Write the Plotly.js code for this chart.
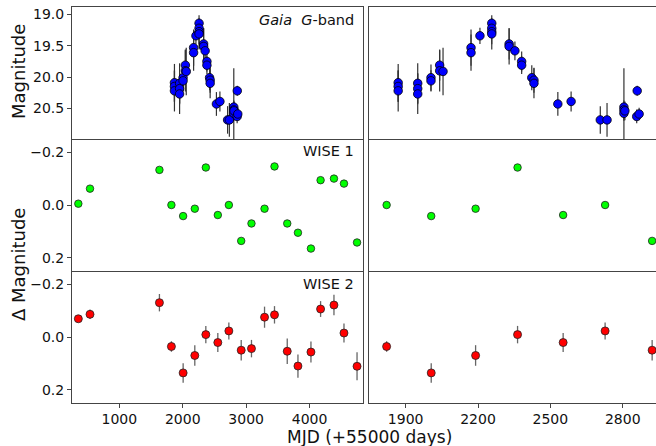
<!DOCTYPE html>
<html>
<head>
<meta charset="utf-8">
<script src="https://cdn.plot.ly/plotly-3.0.1.min.js"></script>
<style>
  html, body { margin: 0; padding: 0; background: #fff; }
  #chart { width: 656px; height: 446px; }
</style>
</head>
<body>
<div id="chart"></div>
<script>
// Gaia G-band light curve (MJD - 55000, magnitude, 1-sigma error)
const gaiaMJD = [1869, 1869, 1869, 1950, 1950, 1950, 2005, 2005, 2041, 2041, 2055,
                 2171, 2171, 2208, 2257, 2257, 2257, 2257, 2329, 2329, 2353, 2381, 2381,
                 2423, 2432, 2432, 2531, 2586, 2707, 2735, 2805, 2805, 2805, 2809,
                 2860, 2858, 2868];
const gaiaMag = [20.09, 20.15, 20.22, 20.10, 20.185, 20.27, 20.01, 20.06, 19.81, 19.90, 19.91,
                 19.53, 19.61, 19.34, 19.14, 19.22, 19.275, 19.31, 19.47, 19.51, 19.58, 19.75, 19.81,
                 20.01, 20.05, 20.10, 20.43, 20.39, 20.685, 20.685, 20.48, 20.525, 20.58, 20.54,
                 20.22, 20.63, 20.59];
const gaiaErr = [0.30, 0.25, 0.33, 0.32, 0.25, 0.32, 0.21, 0.17, 0.25, 0.33, 0.38,
                 0.29, 0.29, 0.13, 0.13, 0.15, 0.20, 0.25, 0.25, 0.29, 0.15, 0.16, 0.14,
                 0.20, 0.20, 0.24, 0.19, 0.16, 0.22, 0.27, 0.62, 0.15, 0.12, 0.15,
                 0.08, 0.11, 0.10];

// WISE epochs and differential photometry
const wiseMJD = [353, 537, 1632, 1821, 2006, 2190, 2364, 2553, 2727, 2922,
                 3084, 3290, 3447, 3648, 3817, 4022, 4174, 4385, 4543, 4749];
const wise1 = [-0.005, -0.062, -0.133, 0.0, 0.042, 0.014, -0.142, 0.038, 0.0, 0.136,
               0.070, 0.014, -0.146, 0.070, 0.105, 0.165, -0.094, -0.100, -0.081, 0.142];
const wise2 = [-0.069, -0.086, -0.130, 0.036, 0.136, 0.070, -0.009, 0.021, -0.023, 0.050,
               0.044, -0.075, -0.084, 0.054, 0.110, 0.057, -0.106, -0.121, -0.015, 0.111];
const wise2Err = [0.012, 0.018, 0.033, 0.020, 0.037, 0.039, 0.033, 0.036, 0.032, 0.039,
                  0.033, 0.040, 0.033, 0.048, 0.044, 0.040, 0.030, 0.039, 0.036, 0.053];

// Tick labels
const fullTicks = [1000, 2000, 3000, 4000];
const zoomTicks = [1900, 2200, 2500, 2800];
const magTicks = [19.0, 19.5, 20.0, 20.5];
const magTickText = ['19.0', '19.5', '20.0', '20.5'];
const dTicks = [-0.2, 0.0, 0.2];
const dTickText = ['\u22120.2', '0.0', '0.2'];

const W = 656, H = 446;
const px = v => v / W;
const py = v => 1 - v / H;

const font = 'DejaVu Sans, sans-serif';
const lineCol = '#444';

const leftDom = [px(72), px(363)];
const rightDom = [px(369), 1];
const rowDom = [[py(139), py(7)], [py(271), py(139)], [py(403), py(271)]];

const fullRange = [253, 4843];
const zoomRange = [1748, 2938];
const magRange = [20.99, 18.88];
const dRange = [0.25, -0.25];

// top row draws both horizontal frame lines; lower rows only their bottom one,
// so panel boundaries stay a single thin line
function xAx(dom, range, anchor, ticks, mirror) {
  const a = {
    domain: dom, range: range, anchor: anchor,
    showline: true, linecolor: lineCol, linewidth: 1, mirror: mirror,
    showgrid: false, zeroline: false
  };
  if (ticks) {
    a.ticks = 'outside'; a.ticklen = 3.5; a.tickcolor = lineCol; a.tickwidth = 1;
    a.tickvals = ticks; a.ticktext = ticks.map(String);
    a.tickfont = {family: font, size: 14, color: '#111'};
  } else {
    a.ticks = ''; a.showticklabels = false;
  }
  return a;
}

function yAx(dom, range, anchor, vals, text) {
  const a = {
    domain: dom, range: range, anchor: anchor,
    showline: true, linecolor: lineCol, linewidth: 1,
    showgrid: false, zeroline: false
  };
  if (vals) {
    a.mirror = true;
    a.ticks = 'outside'; a.ticklen = 4; a.tickcolor = lineCol; a.tickwidth = 1;
    a.tickvals = vals; a.ticktext = text;
    a.tickfont = {family: font, size: 14, color: '#111'};
  } else {
    a.mirror = false; a.ticks = ''; a.showticklabels = false;
  }
  return a;
}

function gaiaTrace(xa, ya) {
  return {
    x: gaiaMJD, y: gaiaMag, xaxis: xa, yaxis: ya, type: 'scatter', mode: 'markers',
    error_y: {type: 'data', array: gaiaErr, visible: true, color: '#333', thickness: 1.2, width: 0},
    marker: {color: '#0000ff', size: 8.5, line: {color: '#000', width: 0.8}},
    showlegend: false, hoverinfo: 'skip'
  };
}
function w1Trace(xa, ya) {
  return {
    x: wiseMJD, y: wise1, xaxis: xa, yaxis: ya, type: 'scatter', mode: 'markers',
    marker: {color: '#00ff00', size: 7.5, line: {color: '#222', width: 0.8}},
    showlegend: false, hoverinfo: 'skip'
  };
}
function w2Trace(xa, ya) {
  return {
    x: wiseMJD, y: wise2, xaxis: xa, yaxis: ya, type: 'scatter', mode: 'markers',
    error_y: {type: 'data', array: wise2Err, visible: true, color: '#666', thickness: 1.3, width: 0},
    marker: {color: '#ff0000', size: 8, line: {color: '#222', width: 0.8}},
    showlegend: false, hoverinfo: 'skip'
  };
}

const data = [
  gaiaTrace('x', 'y'), gaiaTrace('x2', 'y2'),
  w1Trace('x3', 'y3'), w1Trace('x4', 'y4'),
  w2Trace('x5', 'y5'), w2Trace('x6', 'y6')
];

const layout = {
  width: W, height: H,
  margin: {l: 0, r: 0, t: 0, b: 0},
  paper_bgcolor: '#fff', plot_bgcolor: '#fff',
  font: {family: font, color: '#111'},
  xaxis:  xAx(leftDom,  fullRange, 'y',  null, true),
  yaxis:  yAx(rowDom[0], magRange, 'x',  magTicks, magTickText),
  xaxis2: xAx(rightDom, zoomRange, 'y2', null, true),
  yaxis2: yAx(rowDom[0], magRange, 'x2', null),
  xaxis3: xAx(leftDom,  fullRange, 'y3', null, false),
  yaxis3: yAx(rowDom[1], dRange,   'x3', dTicks, dTickText),
  xaxis4: xAx(rightDom, zoomRange, 'y4', null, false),
  yaxis4: yAx(rowDom[1], dRange,   'x4', null),
  xaxis5: xAx(leftDom,  fullRange, 'y5', fullTicks, false),
  yaxis5: yAx(rowDom[2], dRange,   'x5', dTicks, dTickText),
  xaxis6: xAx(rightDom, zoomRange, 'y6', zoomTicks, false),
  yaxis6: yAx(rowDom[2], dRange,   'x6', null),
  annotations: [
    {text: '<i>Gaia</i>  <i>G</i>-band', xref: 'paper', yref: 'paper', x: px(356), y: py(20),
     xanchor: 'right', yanchor: 'middle', showarrow: false, font: {family: font, size: 14.5, color: '#111'}},
    {text: 'WISE 1', xref: 'paper', yref: 'paper', x: px(356), y: py(151),
     xanchor: 'right', yanchor: 'middle', showarrow: false, font: {family: font, size: 14.5, color: '#111'}},
    {text: 'WISE 2', xref: 'paper', yref: 'paper', x: px(356), y: py(284),
     xanchor: 'right', yanchor: 'middle', showarrow: false, font: {family: font, size: 14.5, color: '#111'}},
    {text: 'Magnitude', xref: 'paper', yref: 'paper', x: px(18), y: py(72), textangle: -90,
     xanchor: 'center', yanchor: 'middle', showarrow: false, font: {family: font, size: 18, color: '#111'}},
    {text: '\u0394 Magnitude', xref: 'paper', yref: 'paper', x: px(18), y: py(265), textangle: -90,
     xanchor: 'center', yanchor: 'middle', showarrow: false, font: {family: font, size: 18, color: '#111'}},
    {text: 'MJD (+55000 days)', xref: 'paper', yref: 'paper', x: px(370), y: py(436.5),
     xanchor: 'center', yanchor: 'middle', showarrow: false, font: {family: font, size: 17, color: '#111'}}
  ]
};

Plotly.newPlot('chart', data, layout, {staticPlot: true, displayModeBar: false});
</script>
</body>
</html>
